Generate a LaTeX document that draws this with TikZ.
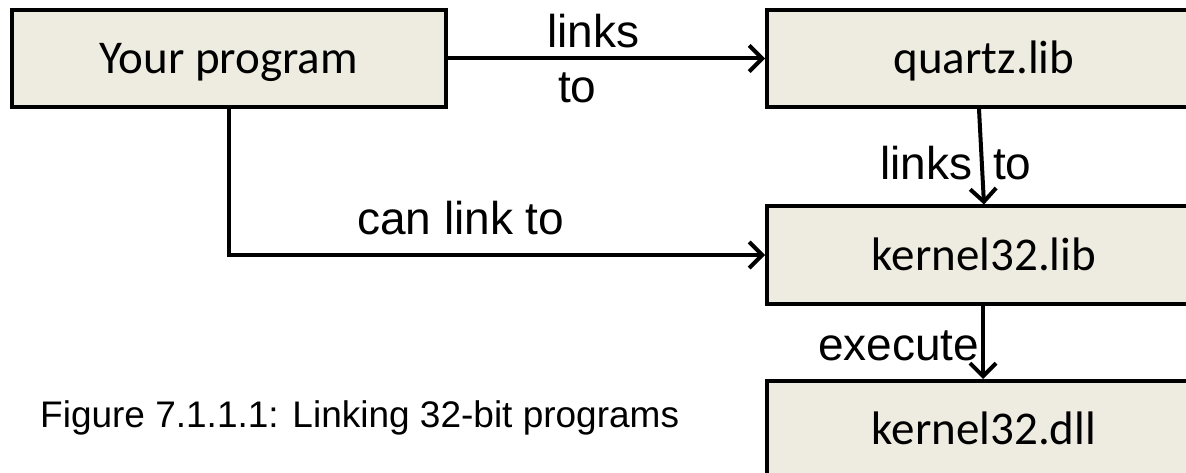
\documentclass[tikz,border=0pt]{standalone}
\usepackage{fontspec}
\setmainfont{Liberation Sans}
\newfontfamily\boxfont{Carlito}
\usetikzlibrary{arrows.meta}
\definecolor{boxfill}{RGB}{238,236,225}
\begin{document}
\begin{tikzpicture}[x=1pt,y=-1pt,
  box/.style={draw=black, line width=4pt, fill=boxfill, minimum width=434pt,
    minimum height=97pt, inner sep=0pt, text height=30pt, text depth=0pt,
    font=\boxfont\fontsize{47}{56}\selectfont},
  conn/.style={line width=4pt, -{Straight Barb[length=13pt,width=26pt,line width=4pt]}},
  lbl/.style={font=\fontsize{46}{55}\selectfont, inner sep=0pt, anchor=base west}]
\useasboundingbox (0,0) rectangle (1186,473);
\clip (0,0) rectangle (1186,473);
\node[box] (yp) at (228.5,58.5) {Your program};
\node[box] (qz) at (984,58.5) {quartz.lib};
\node[box] (kl) at (984,255) {kernel32.lib};
\node[box] (dll) at (984,429.5) {kernel32.dll};
\draw[conn] (yp.east) -- (qz.west);
\draw[conn] (yp.south) |- (kl.west);
\draw[conn] ([xshift=-5pt]qz.south) -- (kl.north);
\draw[conn] ([xshift=-1pt]kl.south) -- ([xshift=-1pt]dll.north);
\node[lbl] (l1) at (547,48) {links};
\node[lbl] (l2) at (558,103) {to};
\node[lbl] (l3) at (357,235) {can link to};
\node[lbl] (l4) at (880,180) {links};
\node[lbl] (l5) at (993,180) {to};
\node[lbl] (l6) at (818,360) {execute};
\node[inner sep=0pt, anchor=base west, font=\fontsize{37}{44}\selectfont] (cap) at (40,427) {Figure 7.1.1.1: Linking 32-bit programs};
\end{tikzpicture}
\end{document}
